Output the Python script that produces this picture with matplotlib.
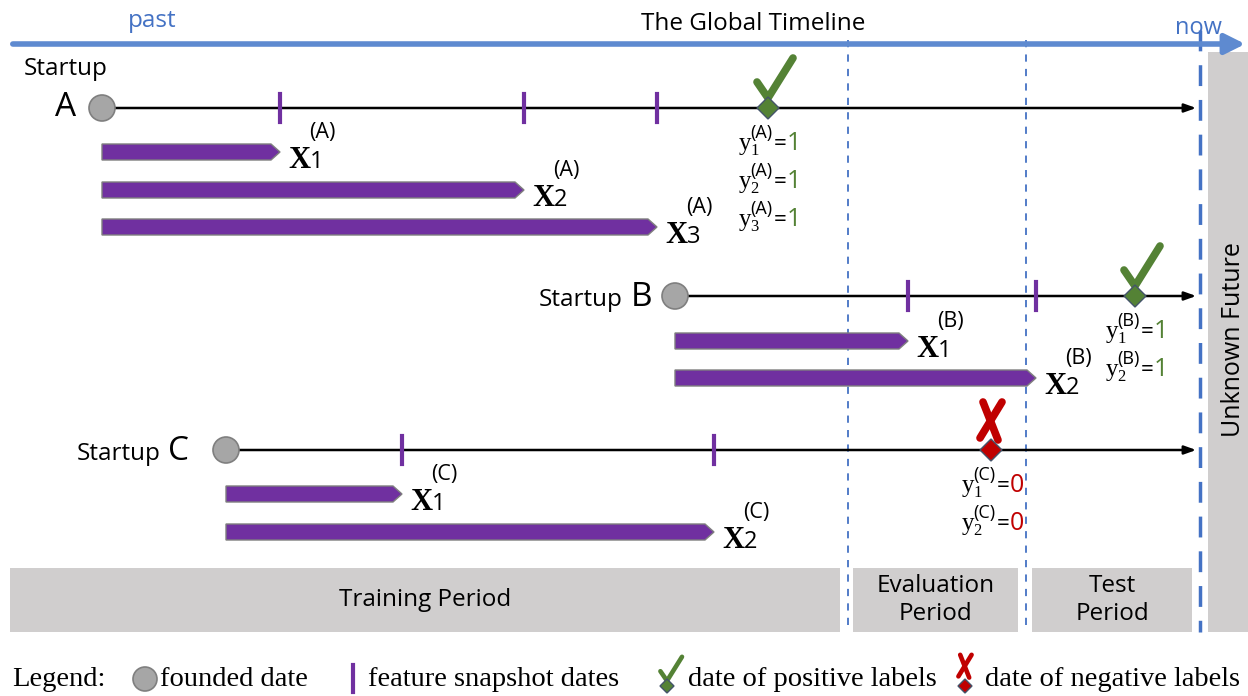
import matplotlib.pyplot as plt
from matplotlib.patches import Polygon, Circle, Rectangle

# startups: name, row y, founded x, snapshot x's, label x, label value
names = ["A", "B", "C"]
row_y = [108, 296, 450]
founded_x = [102, 675, 226]
snapshots = [[280, 524, 657], [908, 1036], [402, 714]]
label_x = [768, 1135, 991]
label_val = [1, 1, 0]
bar_y = [[152, 190, 227], [341, 378], [494, 532]]

periods = ["Training Period", "Evaluation\nPeriod", "Test\nPeriod"]
period_x = [[10, 840], [853, 1018], [1032, 1192]]
split_x = [848, 1026, 1200]

purple = "#7030A0"
green = "#548235"
red = "#C00000"
blue = "#4472C4"
grey_box = "#D0CECE"

sans = ["Open Sans", "DejaVu Sans"]
serif = ["Liberation Serif", "DejaVu Serif"]

fig = plt.figure(figsize=(12.48, 6.96), dpi=100)
ax = fig.add_axes([0, 0, 1, 1])
ax.set_xlim(0, 1248)
ax.set_ylim(696, 0)
ax.axis("off")


def check(x, y, s=1.0):
    ax.plot([x - 11 * s, x, x + 25 * s], [y - 18 * s, y - 2 * s, y - 42 * s],
            color=green, lw=5.5 * s, solid_capstyle="round", solid_joinstyle="round", zorder=5)


def cross(x, y, s=1.0):
    ax.plot([x - 8 * s, x + 7 * s], [y - 42 * s, y - 4 * s], color=red, lw=5.5 * s,
            solid_capstyle="round", zorder=5)
    ax.plot([x + 11 * s, x - 11 * s], [y - 42 * s, y - 6 * s], color=red, lw=5.5 * s,
            solid_capstyle="round", zorder=5)


def diamond(x, y, col, r=11):
    ax.add_patch(Polygon([[x - r, y], [x, y - r], [x + r, y], [x, y + r]], closed=True,
                         facecolor=col, edgecolor="#44546A", lw=1, zorder=6))


def feature_bar(x0, x1, y):
    h = 8
    ax.add_patch(Polygon([[x0, y - h], [x1 - 9, y - h], [x1, y], [x1 - 9, y + h], [x0, y + h]],
                         closed=True, facecolor=purple, edgecolor="#7F7F7F", lw=1, zorder=3))


def x_label(x, y, i, name):
    ax.text(x, y, "X", family=serif, fontsize=22, fontweight="bold", ha="left", va="baseline")
    ax.text(x + 22, y, str(i), family=sans, fontsize=17, ha="left", va="baseline")
    ax.text(x + 21, y - 30, "(" + name + ")", family=sans, fontsize=15.5, ha="left", va="baseline")


def y_label(x, y, i, name, v):
    col = green if v == 1 else red
    ax.text(x, y, "y", family=serif, fontsize=18, ha="left", va="baseline")
    ax.text(x + 11, y + 5, str(i), family=serif, fontsize=12, ha="left", va="baseline")
    ax.text(x + 11, y - 12, "(" + name + ")", family=sans, fontsize=13, ha="left", va="baseline")
    ax.text(x + 35, y, "=", family=sans, fontsize=16, ha="left", va="baseline")
    ax.text(x + 48, y, str(v), family=sans, fontsize=18, color=col, ha="left", va="baseline")


# global timeline
ax.annotate("", xy=(1248, 44), xytext=(10, 44),
            arrowprops=dict(arrowstyle="-|>,head_length=1.2,head_width=0.6", color="#5E8AD0", lw=4))
ax.text(152, 21, "past", family=sans, fontsize=17.5, color=blue, ha="center", va="center")
ax.text(1198, 28, "now", family=sans, fontsize=17, color=blue, ha="center", va="center")
ax.text(753, 24, "The Global Timeline", family=sans, fontsize=17.5, ha="center", va="center")

# period boxes
for (x0, x1), p in zip(period_x, periods):
    ax.add_patch(Rectangle((x0, 568), x1 - x0, 64, facecolor=grey_box, edgecolor="none", zorder=0))
    ax.text((x0 + x1) / 2, 600, p, family=sans, fontsize=17.5, ha="center", va="center",
            linespacing=1.25)
ax.add_patch(Rectangle((1208, 52), 40, 580, facecolor=grey_box, edgecolor="none", zorder=0))
ax.text(1233, 340, "Unknown Future", family=sans, fontsize=18, rotation=90,
        ha="center", va="center")

# split lines
for k, sx in enumerate(split_x):
    if k < 2:
        ax.plot([sx, sx], [40, 632], color=blue, lw=1.3, ls=(0, (4, 4)), zorder=1)
    else:
        ax.plot([sx, sx], [30, 632], color=blue, lw=2.5, ls=(0, (6, 4)), zorder=1)

# startup rows
for s in range(3):
    y = row_y[s]
    ax.annotate("", xy=(1199, y), xytext=(founded_x[s], y),
                arrowprops=dict(arrowstyle="-|>,head_length=0.7,head_width=0.25", color="black", lw=1.8),
                zorder=2)
    ax.add_patch(Circle((founded_x[s], y), 13, facecolor="#A6A6A6", edgecolor="#7F7F7F", lw=1.2, zorder=4))
    for i, sx in enumerate(snapshots[s]):
        ax.plot([sx, sx], [y - 14, y + 14], color=purple, lw=3, zorder=4)
        feature_bar(founded_x[s], sx, bar_y[s][i])
        x_label(sx + 8, bar_y[s][i] + 16, i + 1, names[s])
    lx = label_x[s]
    if label_val[s] == 1:
        diamond(lx, y, green)
        check(lx, y - 8)
    else:
        diamond(lx, y, red)
        cross(lx, y - 6)
    for i in range(len(snapshots[s])):
        y_label(lx - 29, y + 42 + 38 * i, i + 1, names[s], label_val[s])

# startup names
ax.text(66, 69, "Startup", family=sans, fontsize=17.5, ha="center", va="center")
ax.text(66, 108, "A", family=sans, fontsize=24, ha="center", va="center")
ax.text(623, 300, "Startup", family=sans, fontsize=17.5, ha="right", va="center")
ax.text(641, 297, "B", family=sans, fontsize=24, ha="center", va="center")
ax.text(161, 454, "Startup", family=sans, fontsize=17.5, ha="right", va="center")
ax.text(179, 451, "C", family=sans, fontsize=24, ha="center", va="center")

# legend
lfs = 20.5
ax.text(12, 680, "Legend:", family=serif, fontsize=lfs, ha="left", va="center")
ax.add_patch(Circle((145, 679), 12, facecolor="#A6A6A6", edgecolor="#7F7F7F", lw=1.2))
ax.text(160, 680, "founded date", family=serif, fontsize=lfs, ha="left", va="center")
ax.plot([353, 353], [665, 692], color=purple, lw=3)
ax.text(368, 680, "feature snapshot dates", family=serif, fontsize=lfs, ha="left", va="center")
diamond(667, 686, green, r=7)
check(667, 682, s=0.6)
ax.text(688, 680, "date of positive labels", family=serif, fontsize=lfs, ha="left", va="center")
diamond(965, 686, red, r=7)
cross(965, 680, s=0.6)
ax.text(985, 680, "date of negative labels", family=serif, fontsize=lfs, ha="left", va="center")

fig.savefig("out.png", dpi=100)
